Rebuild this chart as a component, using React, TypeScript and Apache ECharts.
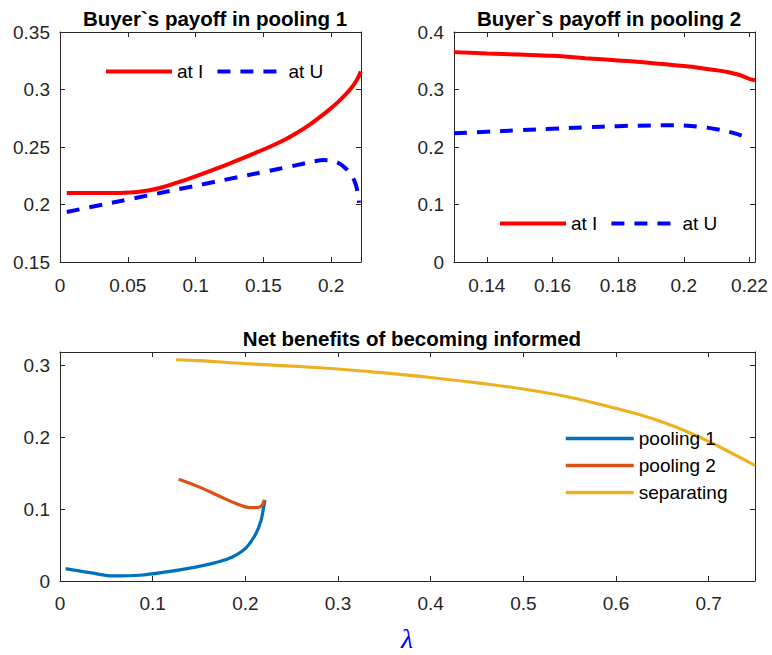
import React, { useEffect, useRef } from "react";
import * as echarts from "echarts";

// ---------- Panel 1: Buyer`s payoff in pooling 1 ----------
const pool1IX = [0.005, 0.02, 0.035, 0.045, 0.055, 0.065, 0.075, 0.085, 0.1, 0.113, 0.125, 0.14, 0.15, 0.165, 0.175, 0.185, 0.195, 0.2, 0.205, 0.21, 0.215, 0.218, 0.2205, 0.2218];
const pool1IY = [0.21, 0.21, 0.21, 0.2101, 0.2106, 0.2122, 0.2148, 0.2185, 0.2245, 0.2302, 0.2356, 0.2428, 0.2478, 0.2558, 0.2625, 0.2702, 0.279, 0.2838, 0.289, 0.2948, 0.3015, 0.3065, 0.3118, 0.3158];
const pool1UX = [0.005, 0.03, 0.05, 0.07, 0.09, 0.11, 0.13, 0.15, 0.17, 0.18, 0.188, 0.194, 0.2, 0.205, 0.209, 0.2125, 0.2152, 0.2175, 0.219, 0.22, 0.2205];
const pool1UY = [0.1935, 0.1995, 0.2043, 0.2091, 0.2139, 0.2187, 0.2235, 0.2283, 0.2331, 0.2357, 0.2376, 0.2386, 0.2381, 0.2363, 0.2332, 0.2292, 0.225, 0.2195, 0.2135, 0.207, 0.2015];

// ---------- Panel 2: Buyer`s payoff in pooling 2 ----------
const pool2IX = [0.13, 0.14, 0.15, 0.16, 0.17, 0.18, 0.19, 0.2, 0.205, 0.21, 0.214, 0.217, 0.219, 0.2205, 0.2217];
const pool2IY = [0.365, 0.3628, 0.3607, 0.3585, 0.3545, 0.3505, 0.3462, 0.3408, 0.3375, 0.3335, 0.3295, 0.3252, 0.3208, 0.3175, 0.316];
const pool2UX = [0.13, 0.14, 0.15, 0.16, 0.17, 0.18, 0.19, 0.195, 0.2, 0.205, 0.21, 0.215, 0.218, 0.2205];
const pool2UY = [0.2239, 0.2265, 0.2292, 0.2318, 0.2343, 0.2363, 0.2376, 0.2379, 0.2372, 0.235, 0.231, 0.2245, 0.219, 0.2125];

// ---------- Panel 3: Net benefits of becoming informed ----------
const net1X = [0.006, 0.032, 0.059, 0.086, 0.115, 0.143, 0.168, 0.186, 0.201, 0.2115, 0.217, 0.2198, 0.2213];
const net1Y = [0.0173, 0.0117, 0.007, 0.008, 0.0126, 0.0187, 0.0256, 0.0335, 0.0466, 0.0661, 0.0847, 0.1032, 0.1125];
const net2X = [0.128, 0.15, 0.172, 0.19, 0.2045, 0.2135, 0.218, 0.2206];
const net2Y = [0.1418, 0.1311, 0.1181, 0.1079, 0.1023, 0.1023, 0.1056, 0.1135];
const sepX = [0.125, 0.15, 0.2, 0.25, 0.3, 0.35, 0.4, 0.45, 0.5, 0.55, 0.6, 0.625, 0.65, 0.675, 0.7, 0.725, 0.75];
const sepY = [0.3082, 0.307, 0.3028, 0.2992, 0.2953, 0.2898, 0.2835, 0.276, 0.2675, 0.256, 0.2405, 0.232, 0.2215, 0.209, 0.1945, 0.178, 0.161];

// ---------- Ticks ----------
const p1XTicks = [0, 0.05, 0.1, 0.15, 0.2];
const p1YTicks = [0.15, 0.2, 0.25, 0.3, 0.35];
const p2XTicks = [0.14, 0.16, 0.18, 0.2, 0.22];
const p2YTicks = [0, 0.1, 0.2, 0.3, 0.4];
const p3XTicks = [0, 0.1, 0.2, 0.3, 0.4, 0.5, 0.6, 0.7];
const p3YTicks = [0, 0.1, 0.2, 0.3];

const titles = ["Buyer`s payoff in pooling 1", "Buyer`s payoff in pooling 2", "Net benefits of becoming informed"];
const payoffNames = ["at I", "at U"];
const netNames = ["pooling 1", "pooling 2", "separating"];

const FONT = "'Liberation Sans', Arial, Helvetica, sans-serif";
const INK = "#262626";
const TICK_FS = 19;

const zip = (xs: number[], ys: number[]) => xs.map((x, i) => [x, ys[i]]);

function xPair(gridIndex: number, min: number, max: number, ticks: number[], margin: number) {
  const base = {
    type: "value" as const,
    gridIndex,
    min,
    max,
    splitLine: { show: false },
    axisLine: { show: true, onZero: false, lineStyle: { color: INK, width: 1 } },
    axisTick: { show: true, inside: true, length: 5, customValues: ticks, lineStyle: { color: INK, width: 1 } },
  };
  return [
    { ...base, position: "bottom", axisLabel: { show: true, customValues: ticks, margin, color: INK, fontSize: TICK_FS, fontFamily: FONT } },
    { ...base, position: "top", axisLabel: { show: false } },
  ];
}

function yPair(gridIndex: number, min: number, max: number, ticks: number[]) {
  const base = {
    type: "value" as const,
    gridIndex,
    min,
    max,
    splitLine: { show: false },
    axisLine: { show: true, onZero: false, lineStyle: { color: INK, width: 1 } },
    axisTick: { show: true, inside: true, length: 5, customValues: ticks, lineStyle: { color: INK, width: 1 } },
  };
  return [
    { ...base, position: "left", axisLabel: { show: true, customValues: ticks, margin: 10, color: INK, fontSize: TICK_FS, fontFamily: FONT } },
    { ...base, position: "right", axisLabel: { show: false } },
  ];
}

const legendText = { fontSize: 19, color: "#000", fontFamily: FONT };
const legendCommon = { padding: 0, itemHeight: 14, selectedMode: false, textStyle: legendText, itemStyle: { opacity: 0 } };

export default function App() {
  const ref = useRef<HTMLDivElement>(null);

  useEffect(() => {
    if (!ref.current) return;
    const chart = echarts.init(ref.current, null, { renderer: "svg" });

    const lineBase = { type: "line" as const, symbol: "none", smooth: 0.4 };
    const titleStyle = { fontSize: 20.5, fontWeight: "bold", color: "#000", fontFamily: FONT };

    chart.setOption({
      animation: false,
      backgroundColor: "#ffffff",
      title: [
        { text: titles[0], left: 210, top: 3, textAlign: "center", textStyle: titleStyle },
        { text: titles[1], left: 604, top: 3, textAlign: "center", textStyle: titleStyle },
        { text: titles[2], left: 407, top: 323, textAlign: "center", textStyle: titleStyle },
      ],
      grid: [
        { left: 60, top: 32, width: 301, height: 230 },
        { left: 454, top: 32, width: 301, height: 230 },
        { left: 60, top: 352, width: 695, height: 229 },
      ],
      xAxis: [
        ...xPair(0, 0, 0.222, p1XTicks, 14),
        ...xPair(1, 0.13, 0.2217, p2XTicks, 14),
        ...xPair(2, 0, 0.75, p3XTicks, 13),
      ],
      yAxis: [
        ...yPair(0, 0.15, 0.35, p1YTicks),
        ...yPair(1, 0, 0.4, p2YTicks),
        ...yPair(2, 0, 0.319, p3YTicks),
      ],
      legend: [
        { ...legendCommon, data: payoffNames, left: 104, top: 62, orient: "horizontal", itemWidth: 66, itemGap: 12, lineStyle: { width: 4 } },
        { ...legendCommon, data: payoffNames, left: 498, top: 214, orient: "horizontal", itemWidth: 66, itemGap: 12, lineStyle: { width: 4 } },
        { ...legendCommon, data: netNames, left: 564, top: 429, orient: "vertical", itemWidth: 68, itemGap: 8, lineStyle: { width: 3.5 } },
      ],
      graphic: [
        {
          type: "text",
          x: 407,
          y: 638,
          style: {
            text: "λ",
            fill: "#0000FF",
            font: "italic 28px 'Liberation Serif', 'DejaVu Serif', serif",
            textAlign: "center",
            textVerticalAlign: "middle",
          },
        },
      ],
      series: [
        { ...lineBase, name: payoffNames[0], xAxisIndex: 0, yAxisIndex: 0, data: zip(pool1IX, pool1IY), lineStyle: { color: "#FF0000", width: 4 }, itemStyle: { color: "#FF0000" } },
        { ...lineBase, name: payoffNames[1], xAxisIndex: 0, yAxisIndex: 0, data: zip(pool1UX, pool1UY), lineStyle: { color: "#0000FF", width: 4, type: [13, 10] }, itemStyle: { color: "#0000FF" } },
        { ...lineBase, name: payoffNames[0], xAxisIndex: 2, yAxisIndex: 2, data: zip(pool2IX, pool2IY), lineStyle: { color: "#FF0000", width: 4 }, itemStyle: { color: "#FF0000" } },
        { ...lineBase, name: payoffNames[1], xAxisIndex: 2, yAxisIndex: 2, data: zip(pool2UX, pool2UY), lineStyle: { color: "#0000FF", width: 4, type: [13, 10] }, itemStyle: { color: "#0000FF" } },
        { ...lineBase, name: netNames[0], xAxisIndex: 4, yAxisIndex: 4, data: zip(net1X, net1Y), lineStyle: { color: "#0072BD", width: 3.2 }, itemStyle: { color: "#0072BD" } },
        { ...lineBase, name: netNames[1], xAxisIndex: 4, yAxisIndex: 4, data: zip(net2X, net2Y), lineStyle: { color: "#D95319", width: 3.2 }, itemStyle: { color: "#D95319" } },
        { ...lineBase, name: netNames[2], xAxisIndex: 4, yAxisIndex: 4, data: zip(sepX, sepY), lineStyle: { color: "#EDB120", width: 3.2 }, itemStyle: { color: "#EDB120" } },
      ],
    });

    return () => chart.dispose();
  }, []);

  return <div ref={ref} style={{ position: "absolute", left: 0, top: 0, width: 772, height: 655, background: "#fff" }} />;
}
